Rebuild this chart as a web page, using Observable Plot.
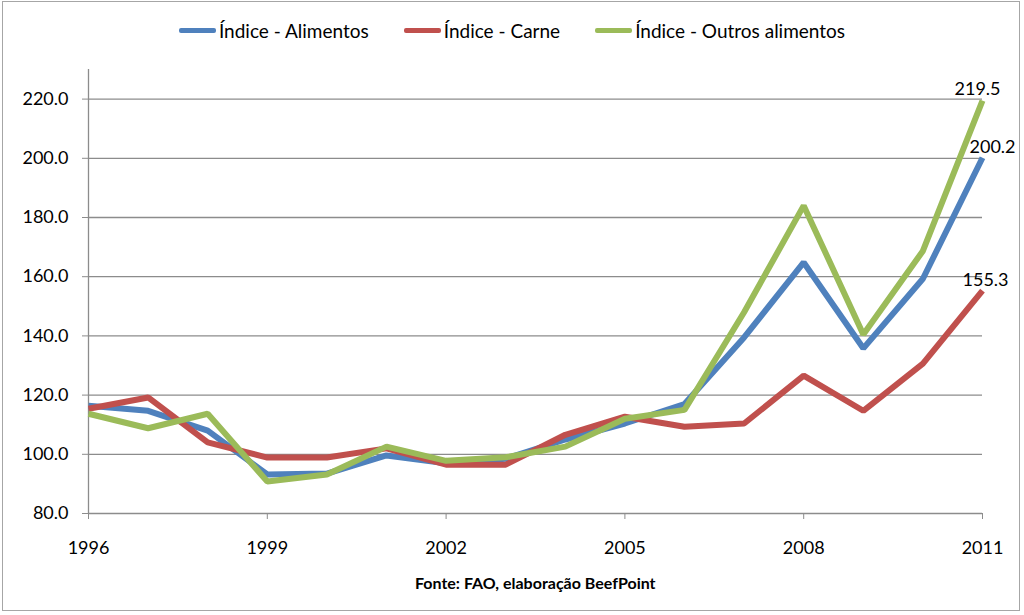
<!DOCTYPE html>
<html>
<head>
<meta charset="utf-8">
<script src="https://cdn.jsdelivr.net/npm/d3@7"></script>
<script src="https://cdn.jsdelivr.net/npm/@observablehq/plot@0.6"></script>
<style>
  html, body { margin: 0; padding: 0; background: #fff; }
  #wrap { position: relative; width: 1024px; height: 615px; overflow: hidden; font-family: Lato, "Open Sans", sans-serif; }
  #frame { position: absolute; left: 2px; top: 1px; width: 1018px; height: 610px; border: 1px solid #a6a6a6; box-sizing: border-box; }
  #legend { position: absolute; left: 0; top: 19px; width: 1024px; display: flex; justify-content: center; gap: 35px; font-size: 19px; color: #000; }
  .item { display: flex; align-items: center; }
  .sw { width: 37px; height: 5px; border-radius: 2px; margin-right: 3px; }
  #chart { position: absolute; left: 0; top: 55px; }
  #chart svg { overflow: visible; }
  #caption { position: absolute; left: 415px; top: 573px; font-size: 16px; font-weight: bold; color: #000; }
</style>
</head>
<body>
<div id="wrap">
  <div id="frame"></div>
  <div id="legend"></div>
  <div id="chart"></div>
  <div id="caption">Fonte: FAO, elaboração BeefPoint</div>
</div>
<script>
const years = [1996,1997,1998,1999,2000,2001,2002,2003,2004,2005,2006,2007,2008,2009,2010,2011];
const alimentos = [116.4,114.7,108.0,93.2,93.5,99.6,97.0,98.5,105.0,110.4,117.0,139.5,164.8,135.8,159.3,200.2];
const carne = [115.4,119.2,104.0,98.9,98.9,102.0,96.5,96.5,106.6,112.7,109.3,110.4,126.6,114.7,130.6,155.3];
const outros = [113.7,108.8,113.7,90.8,93.2,102.6,97.8,99.0,102.6,112.0,115.0,148.0,184.0,140.5,168.7,219.5];
const seriesNames = ["Índice - Alimentos", "Índice - Carne", "Índice - Outros alimentos"];
const seriesColors = ["#4F81BD", "#C0504D", "#9BBB59"];
const xTicks = [1996, 1999, 2002, 2005, 2008, 2011];
const yTicks = [80, 100, 120, 140, 160, 180, 200, 220];
const yDomain = [80, 230];

const seriesValues = [alimentos, carne, outros];
const data = [];
seriesValues.forEach((vals, si) => {
  vals.forEach((v, i) => data.push({year: years[i], value: v, series: seriesNames[si]}));
});
const last = seriesValues.map((vals, si) => ({year: years[years.length - 1], value: vals[vals.length - 1], series: seriesNames[si]}));

// legend
const legend = document.getElementById("legend");
seriesNames.forEach((n, i) => {
  const it = document.createElement("div");
  it.className = "item";
  it.innerHTML = `<span class="sw" style="background:${seriesColors[i]}"></span><span>${n}</span>`;
  legend.appendChild(it);
});

const labelOffsets = [{dx: 10, dy: -10}, {dx: 3, dy: -10}, {dx: -5, dy: -11}];

const chart = Plot.plot({
  width: 1024,
  height: 508,
  marginLeft: 88,
  marginRight: 42,
  marginTop: 14,
  marginBottom: 50,
  style: {fontFamily: "Lato, 'Open Sans', sans-serif", fontSize: "18px", color: "#000", background: "transparent"},
  x: {domain: [years[0], years[years.length - 1]], ticks: xTicks, tickFormat: "d", label: null},
  y: {domain: yDomain, ticks: yTicks, tickFormat: ".1f", label: null},
  color: {domain: seriesNames, range: seriesColors},
  marks: [
    Plot.gridY(yTicks.slice(1), {stroke: "#8c8c8c", strokeOpacity: 1, strokeWidth: 1.3}),
    Plot.axisY({ticks: yTicks, tickSize: 6, tickPadding: 14, stroke: "#8c8c8c", tickFormat: ".1f", fontSize: 18}),
    Plot.axisX({ticks: xTicks, tickSize: 6, tickPadding: 22, stroke: "#8c8c8c", tickFormat: "d", fontSize: 18}),
    Plot.ruleX([years[0]], {y1: yDomain[0], y2: yDomain[1], stroke: "#8c8c8c", strokeWidth: 1.3}),
    Plot.ruleY([yDomain[0]], {stroke: "#8c8c8c", strokeWidth: 1.3}),
    Plot.line(data, {x: "year", y: "value", z: "series", stroke: "series", strokeWidth: 6, strokeLinejoin: "miter", strokeLinecap: "butt"}),
    ...last.map((d, i) => Plot.text([d], {x: "year", y: "value", text: d => d.value.toFixed(1), dx: labelOffsets[i].dx, dy: labelOffsets[i].dy, fontSize: 18, fill: "#000", textAnchor: "middle"}))
  ]
});
document.getElementById("chart").appendChild(chart);
</script>
</body>
</html>
